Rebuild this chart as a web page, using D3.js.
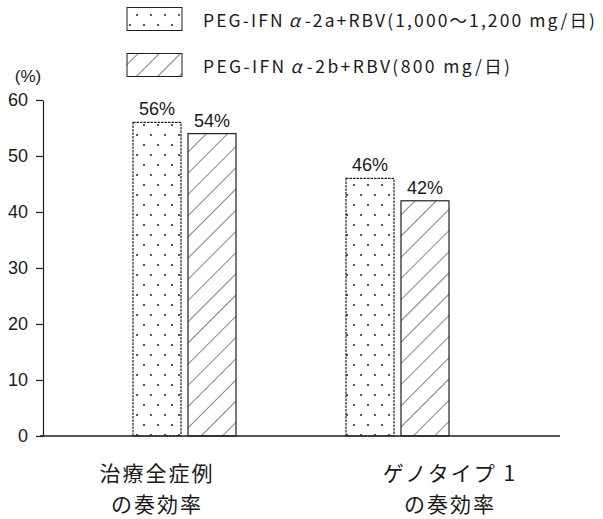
<!DOCTYPE html>
<html>
<head>
<meta charset="utf-8">
<script src="https://cdn.jsdelivr.net/npm/d3@7"></script>
<style>
  html, body { margin: 0; padding: 0; background: #fff; }
  svg { display: block; }
  text { fill: #1a1a1a; font-family: "Liberation Sans", "Noto Sans CJK JP", sans-serif; }
  .jp { font-family: "Noto Sans CJK JP", sans-serif; }
</style>
</head>
<body>
<svg id="chart" width="603" height="519"></svg>
<script>
// Response rates (%) by patient group and regimen
const categories = ["all", "gt1"];
const categoryLines = [["治療全症例", "の奏効率"], ["ゲノタイプ 1", "の奏効率"]];
const seriesKeys = ["2a", "2b"];
const seriesLegend = [
  ["PEG-IFN", "α", "-2a+RBV(1,000〜1,200 mg/日)"],
  ["PEG-IFN", "α", "-2b+RBV(800 mg/日)"]
];
const values2a = [56, 46];
const values2b = [54, 42];
const yTicks = [0, 10, 20, 30, 40, 50, 60];

const svg = d3.select("#chart");
const ink = "#1e1e1e";

// Fill patterns: stipple for 2a, diagonal hatch for 2b
const defs = svg.append("defs");
const dots = defs.append("pattern").attr("id", "dots")
  .attr("patternUnits", "userSpaceOnUse").attr("width", 14).attr("height", 20);
dots.append("circle").attr("cx", 4).attr("cy", 5).attr("r", 1).attr("fill", ink);
dots.append("circle").attr("cx", 11).attr("cy", 15).attr("r", 1).attr("fill", ink);
const hatch = defs.append("pattern").attr("id", "hatch")
  .attr("patternUnits", "userSpaceOnUse").attr("width", 15).attr("height", 15)
  .attr("patternTransform", "rotate(45)");
hatch.append("line").attr("x1", 0).attr("y1", 0).attr("x2", 0).attr("y2", 15)
  .attr("stroke", ink).attr("stroke-width", 1.1);
const fills = { "2a": "url(#dots)", "2b": "url(#hatch)" };

// Scales
const y = d3.scaleLinear().domain([0, 60]).range([436, 100]);
const xGroup = d3.scalePoint().domain(categories).range([184.5, 397.5]);
const xSub = d3.scaleBand().domain(seriesKeys).range([-51.5, 51.5]).paddingInner(0.127);
const xLabel = d3.scalePoint().domain(categories).range([157, 450]);

// Y axis
const yAxis = d3.axisLeft(y).tickValues(yTicks).tickSize(7).tickSizeOuter(0).tickPadding(8);
const gy = svg.append("g").attr("transform", "translate(43,0)").call(yAxis);
gy.select(".domain").attr("stroke", ink).attr("stroke-width", 1.2);
gy.selectAll(".tick line").attr("stroke", ink).attr("stroke-width", 1.2);
gy.selectAll(".tick text").attr("font-size", 18).attr("fill", ink)
  .style("font-family", "'Liberation Sans', sans-serif");

svg.append("text").attr("x", 28).attr("y", 76).attr("text-anchor", "middle")
  .attr("dominant-baseline", "central").attr("font-size", 17).text("(%)");

// Bars
const rows = [];
categories.forEach((c, i) => {
  rows.push({ cat: c, key: "2a", v: values2a[i] });
  rows.push({ cat: c, key: "2b", v: values2b[i] });
});
const bars = svg.append("g");
bars.selectAll("rect").data(rows).join("rect")
  .attr("x", d => xGroup(d.cat) + xSub(d.key))
  .attr("width", xSub.bandwidth())
  .attr("y", d => y(d.v))
  .attr("height", d => y(0) - y(d.v))
  .attr("fill", d => fills[d.key])
  .attr("stroke", ink).attr("stroke-width", 1.2)
  .attr("stroke-dasharray", d => d.key === "2a" ? "2.5,1" : null);

bars.selectAll("text.val").data(rows).join("text").attr("class", "val")
  .attr("x", d => xGroup(d.cat) + xSub(d.key) + xSub.bandwidth() / 2)
  .attr("y", d => y(d.v) - 7)
  .attr("text-anchor", "middle").attr("font-size", 18)
  .text(d => d.v + "%");

// X baseline
svg.append("line").attr("x1", 40).attr("x2", 560).attr("y1", y(0)).attr("y2", y(0))
  .attr("stroke", ink).attr("stroke-width", 1.3);

// Category labels
const cl = svg.append("g");
categories.forEach((c, i) => {
  categoryLines[i].forEach((ln, j) => {
    cl.append("text").attr("class", "jp")
      .attr("x", xLabel(c)).attr("y", 472 + j * 31)
      .attr("text-anchor", "middle").attr("dominant-baseline", "central")
      .attr("font-size", 21).attr("letter-spacing", 2)
      .text(ln);
  });
});

// Legend
const legendWidths = [392, 307];
const lg = svg.append("g");
seriesKeys.forEach((k, i) => {
  const cy = 19 + i * 46;
  lg.append("rect").attr("x", 127).attr("y", cy - 11.5).attr("width", 55).attr("height", 23)
    .attr("fill", fills[k]).attr("stroke", ink).attr("stroke-width", 1);
  const t = lg.append("text").attr("class", "jp").attr("x", 203).attr("y", cy)
    .attr("dominant-baseline", "central").attr("font-size", 17.5)
    .attr("textLength", legendWidths[i]).attr("lengthAdjust", "spacing");
  t.append("tspan").text(seriesLegend[i][0]);
  t.append("tspan").attr("font-style", "italic").attr("dx", 4).text(seriesLegend[i][1]);
  t.append("tspan").attr("dx", 3).text(seriesLegend[i][2]);
});
</script>
</body>
</html>
